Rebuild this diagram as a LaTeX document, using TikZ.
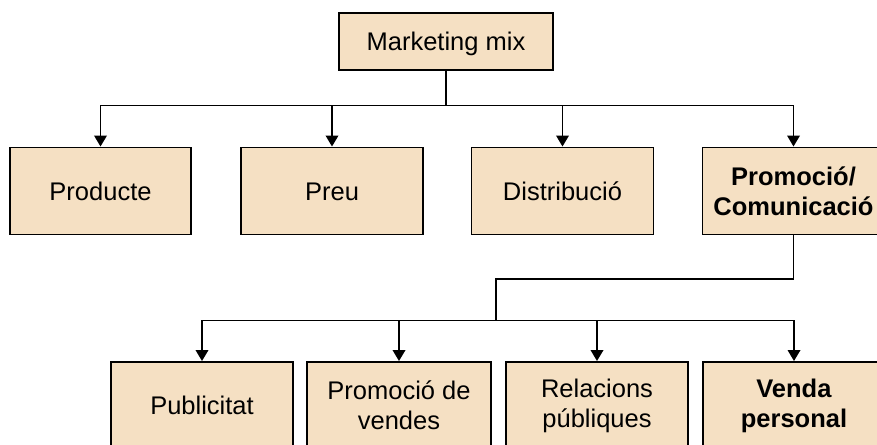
\documentclass[tikz,border=0pt]{standalone}
\usepackage{fontspec}
\setmainfont{Liberation Sans}
\usetikzlibrary{arrows.meta}
\definecolor{boxfill}{RGB}{245,224,195}
\tikzset{
  box/.style={draw=black, line width=1.9pt, fill=boxfill, minimum width=182pt, minimum height=87pt, inner sep=0pt, align=center, font=\fontsize{25.5}{30}\selectfont},
  one/.style={text height=22pt, text depth=3.7pt},
  conn/.style={line width=1.9pt, draw=black},
  arr/.style={conn, -{Triangle[width=12.5pt,length=11pt]}}
}
\begin{document}
\begin{tikzpicture}[x=1pt,y=-1pt]
\useasboundingbox (0,0) rectangle (877,444);
\clip (0,0) rectangle (877,444);
\node[box, one, minimum width=214pt, minimum height=57pt] (mm) at (446,41.5) {Marketing mix};
\node[box, one, minimum width=181pt] (prod) at (100.5,191) {Producte};
\node[box, one] (preu) at (332,191) {Preu};
\node[box, one] (dist) at (562.5,191) {Distribució};
\node[box] (promo) at (793.5,191) {\textbf{Promoció/}\\\textbf{Comunicació}};
\node[box, one] (publ) at (202,405.5) {Publicitat};
\node[box, minimum width=184pt] (vend) at (399,405.5) {Promoció de\\vendes};
\node[box] (rel) at (597,405.5) {Relacions\\públiques};
\node[box] (venda) at (794,405.5) {\textbf{Venda}\\\textbf{personal}};
\coordinate (j1) at (446,105.5);
\draw[conn] (mm.south) -- (j1);
\draw[arr] (j1) -| (prod.north);
\draw[arr] (j1) -| (preu.north);
\draw[arr] (j1) -| (dist.north);
\draw[arr] (j1) -| (promo.north);
\coordinate (j2) at (496,279);
\coordinate (j3) at (496,320.5);
\draw[conn] (promo.south) |- (j2) -- (j3);
\draw[arr] (j3) -| (publ.north);
\draw[arr] (j3) -| (vend.north);
\draw[arr] (j3) -| (rel.north);
\draw[arr] (j3) -| (venda.north);
\end{tikzpicture}
\end{document}
